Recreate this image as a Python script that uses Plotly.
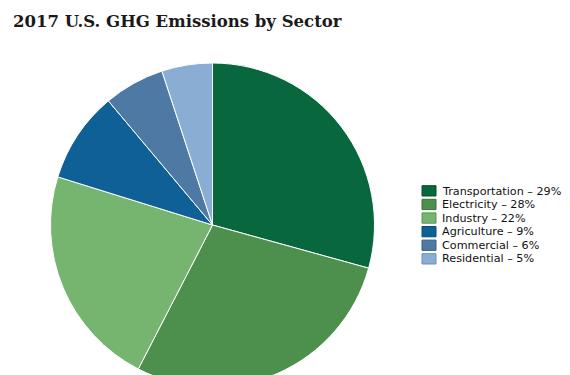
import plotly.graph_objects as go

sectors = ["Transportation", "Electricity", "Industry", "Agriculture", "Commercial", "Residential"]
shares = [29, 28, 22, 9, 6, 5]
colors = ["#08673c", "#4d8f4d", "#76b56f", "#0e6096", "#4f79a5", "#8aadd4"]
borders = ["#054a2b", "#3a6f3a", "#5a9454", "#0a4a75", "#3c5f85", "#6e8fb5"]

W, H = 580, 395
OFF = 8  # page body margin
cx, cy, r = 212.5 - OFF, 225.0 - OFF, 162.0  # pixel centre / radius (from top of figure)

def px(x):
    return (x - OFF) / W

def py(y):
    return 1 - (y - OFF) / H

fig = go.Figure()
fig.add_trace(go.Pie(
    labels=sectors, values=shares, sort=False, direction="clockwise", rotation=0,
    marker=dict(colors=colors, line=dict(color="white", width=1)),
    textinfo="none", hoverinfo="label+percent", showlegend=False,
    domain=dict(x=[(cx - r) / W, (cx + r) / W], y=[(H - cy - r) / H, (H - cy + r) / H]),
))

# legend built from the data
lx, ly0, step = 422, 185.7, 13.6
shapes, annots = [], []
for i, (s, v) in enumerate(zip(sectors, shares)):
    y0 = ly0 + i * step
    shapes.append(dict(type="rect", xref="paper", yref="paper",
                       x0=px(lx), x1=px(lx + 14), y0=py(y0), y1=py(y0 + 10.3),
                       fillcolor=colors[i], line=dict(color=borders[i], width=1)))
    annots.append(dict(xref="paper", yref="paper", x=px(lx + 18), y=py(y0 + 5.3),
                       xanchor="left", yanchor="middle", showarrow=False,
                       text=f"{s} \u2013 {v}%",
                       font=dict(family="DejaVu Sans", size=11.2, color="#111111")))

annots.append(dict(xref="paper", yref="paper", x=px(11), y=py(33), xanchor="left", yanchor="bottom",
                   showarrow=False, text="<b>2017 U.S. GHG Emissions by Sector</b>",
                   font=dict(family="DejaVu Serif", size=16.5, color="#1a1a1a")))

fig.update_layout(width=W, height=H, margin=dict(l=0, r=0, t=0, b=0),
                  paper_bgcolor="white", plot_bgcolor="white",
                  shapes=shapes, annotations=annots)
fig.write_html("out.html")
